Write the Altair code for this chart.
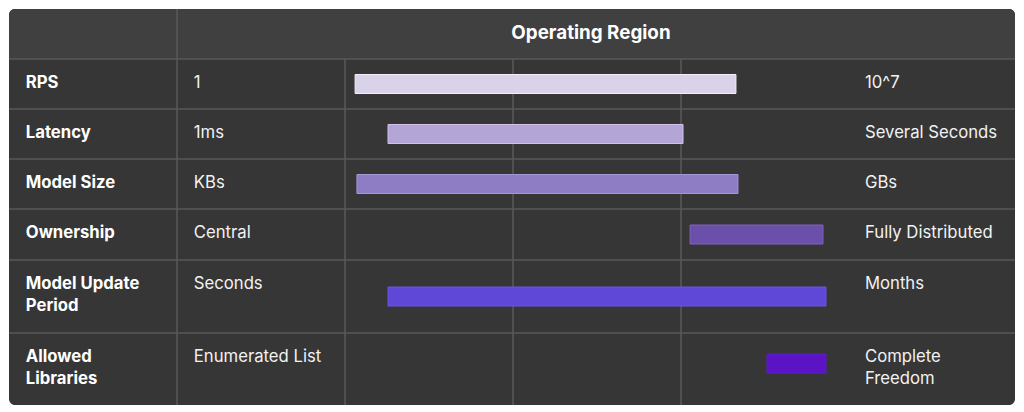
import altair as alt
import pandas as pd

# ---- data ----
metrics = ["RPS", "Latency", "Model Size", "Ownership", "Model Update\nPeriod", "Allowed\nLibraries"]
low_labels = ["1", "1ms", "KBs", "Central", "Seconds", "Enumerated List"]
high_labels = ["10^7", "Several Seconds", "GBs", "Fully Distributed", "Months", "Complete\nFreedom"]
bar_start = [0.06, 0.256, 0.071, 2.054, 0.256, 2.512]
bar_end = [2.327, 2.012, 2.339, 2.845, 2.863, 2.863]
bar_colors = ["#dad2e9", "#b4a5d7", "#8e7dc4", "#6a4fab", "#5f47d7", "#5a14c3"]
bar_strokes = ["#f2eefa", "#cfc3ea", "#a596d6", "#7e64bf", "#6d55e3", "#5f1ad0"]
header_title = "Operating Region"

# table layout (row heights in px, column boundaries in segment units)
header_h = 50
row_h = [50, 50, 50, 51, 73, 72]
col_bounds = [-2, -1, 0, 1, 2, 3.988]
W, H = 1006, 396

# ---- derived tables ----
tops = []
t = header_h
for h in row_h:
    tops.append(t)
    t += h
total_h = t

rows = pd.DataFrame({
    "metric": metrics,
    "top": tops,
    "bottom": [a + b for a, b in zip(tops, row_h)],
    "start": bar_start,
    "end": bar_end,
    "color": bar_colors,
    "stroke": bar_strokes,
})
rows["mid"] = (rows["top"] + rows["bottom"]) / 2
rows["b0"] = rows["mid"] - 9.5
rows["b1"] = rows["mid"] + 9.5
rows.loc[5, "b0"] = rows.loc[5, "mid"] - 15
rows.loc[5, "b1"] = rows.loc[5, "mid"] + 4

text_rows = []
for i in range(len(metrics)):
    for col, label, weight in [(-1.9, metrics[i], "bold"), (-0.9, low_labels[i], "normal"),
                               (3.095, high_labels[i], "normal")]:
        for j, line in enumerate(label.split("\n")):
            text_rows.append({"x": col, "y": tops[i] + 24 + 22 * j, "t": line, "w": weight})
texts = pd.DataFrame(text_rows)

xs = alt.Scale(domain=[col_bounds[0], col_bounds[-1]], nice=False, zero=False)
ys = alt.Scale(domain=[0, total_h], reverse=True, nice=False, zero=False)

bg_df = pd.DataFrame({"x0": [col_bounds[0]], "x1": [col_bounds[-1]], "y0": [0], "y1": [header_h], "y2": [total_h]})

body = alt.Chart(bg_df).mark_rect(color="#363636", cornerRadius=6).encode(
    x=alt.X("x0:Q", scale=xs, axis=None), x2="x1", y=alt.Y("y0:Q", scale=ys, axis=None), y2="y2")
header = alt.Chart(bg_df).mark_rect(color="#404040", cornerRadiusTopLeft=6, cornerRadiusTopRight=6).encode(
    x=alt.X("x0:Q", scale=xs), x2="x1", y=alt.Y("y0:Q", scale=ys), y2="y1")

# horizontal lines
hl = pd.DataFrame({"y": [header_h] + rows["bottom"].tolist()[:-1]})
hlines = alt.Chart(hl).mark_rule(color="#595959", strokeWidth=1.5).encode(
    x=alt.value(0), x2=alt.value(W), y=alt.Y("y:Q", scale=ys))

# vertical lines: full-height one after first column, body-only for others
vl_full = pd.DataFrame({"x": [col_bounds[1]], "y0": [0], "y1": [total_h]})
vl_body = pd.DataFrame({"x": col_bounds[2:5], "y0": [header_h] * 3, "y1": [total_h] * 3})
vlines = alt.Chart(pd.concat([vl_full, vl_body])).mark_rule(color="#595959", strokeWidth=1.5).encode(
    x=alt.X("x:Q", scale=xs), y=alt.Y("y0:Q", scale=ys), y2="y1")

shadow = alt.Chart(rows).mark_rect(color="#1e1e1e", opacity=0.6).encode(
    x=alt.X("start:Q", scale=xs), x2="end", y=alt.Y("b0:Q", scale=ys), y2="b1",
    xOffset=alt.value(0), yOffset=alt.value(1.5))
bars = alt.Chart(rows).mark_rect(strokeWidth=1).encode(
    x=alt.X("start:Q", scale=xs), x2="end", y=alt.Y("b0:Q", scale=ys), y2="b1",
    color=alt.Color("color:N", scale=None), stroke=alt.Stroke("stroke:N", scale=None))

tx_bold = alt.Chart(texts[texts.w == "bold"]).mark_text(
    align="left", baseline="middle", font="Inter", fontSize=16.7, fontWeight="bold", color="#ffffff").encode(
    x=alt.X("x:Q", scale=xs), y=alt.Y("y:Q", scale=ys), text="t:N")
tx_norm = alt.Chart(texts[texts.w == "normal"]).mark_text(
    align="left", baseline="middle", font="Inter", fontSize=16.7, color="#f2f2f2").encode(
    x=alt.X("x:Q", scale=xs), y=alt.Y("y:Q", scale=ys), text="t:N")

title_df = pd.DataFrame({"x": [1.464], "y": [header_h / 2 - 1], "t": [header_title]})
title = alt.Chart(title_df).mark_text(
    align="center", baseline="middle", font="Inter", fontSize=18.8, fontWeight="bold", color="#ffffff").encode(
    x=alt.X("x:Q", scale=xs), y=alt.Y("y:Q", scale=ys), text="t:N")

chart = alt.layer(body, header, hlines, vlines, shadow, bars, tx_bold, tx_norm, title).properties(
    width=W, height=H, padding=0, background="#ffffff"
).configure_view(stroke=None)

chart.save("out.html", embed_options={"renderer": "svg", "actions": False})
